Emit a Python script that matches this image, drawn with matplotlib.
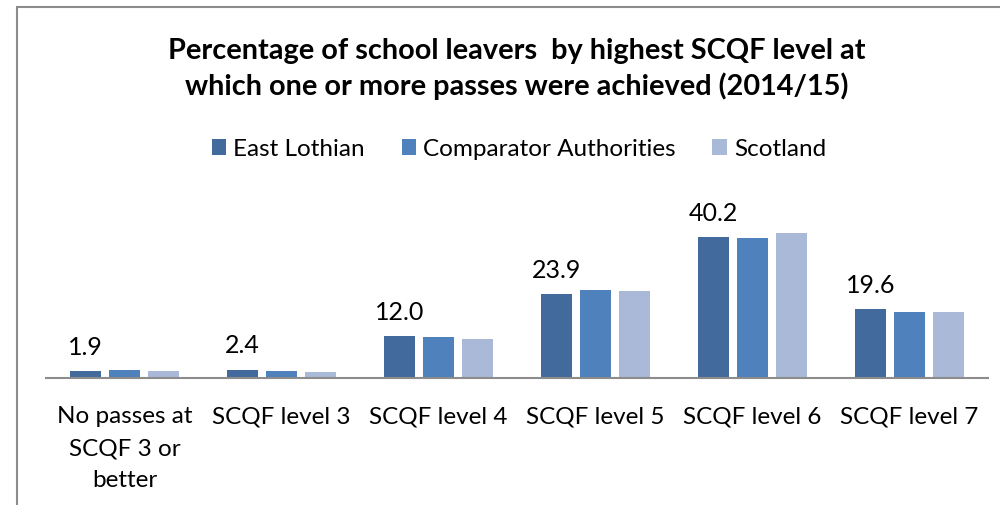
import numpy as np
import matplotlib.pyplot as plt
from matplotlib.patches import Rectangle

plt.rcParams['font.family'] = ['Lato', 'DejaVu Sans']

categories = ["No passes at\nSCQF 3 or\nbetter", "SCQF level 3", "SCQF level 4",
              "SCQF level 5", "SCQF level 6", "SCQF level 7"]
east_lothian = [1.9, 2.4, 12.0, 23.9, 40.2, 19.6]
comparator = [2.3, 1.9, 11.6, 25.2, 40.0, 18.8]
scotland = [2.0, 1.6, 11.0, 24.9, 41.4, 18.7]

series_names = ["East Lothian", "Comparator Authorities", "Scotland"]
colors = ["#426A9C", "#4F81BD", "#AAB9D7"]

W, H = 1000, 506
fig = plt.figure(figsize=(W / 100, H / 100), dpi=100)

# chart border (only left/top visible in the crop)
fig.add_artist(Rectangle((17 / W, -0.1), 1.2, (H - 8) / H + 0.1, transform=fig.transFigure,
                         fill=False, edgecolor="#8c8c8c", linewidth=1.5))

ax = fig.add_axes([46 / W, (H - 379) / H, 942 / W, 179 / H])
x = np.arange(len(categories))
step = 0.25
bw = 0.2
for i, (vals, name, c) in enumerate(zip([east_lothian, comparator, scotland], series_names, colors)):
    bars = ax.bar(x + (i - 1) * step, vals, width=bw, color=c, label=name, zorder=2)
    if i == 0:
        for b, v in zip(bars, vals):
            ax.annotate(f"{v:.1f}", (b.get_x() + b.get_width() / 2, v),
                        xytext=(0, 9.5), textcoords="offset points",
                        ha="center", va="bottom", fontsize=18)

ax.set_xlim(-0.5, len(categories) - 0.5)
ax.set_ylim(0, 51)
ax.set_yticks([])
ax.set_xticks(x)
ax.set_xticklabels(categories, fontsize=17.5, linespacing=1.65)
ax.tick_params(axis="x", length=0, pad=19.5)
for s in ["left", "right", "top"]:
    ax.spines[s].set_visible(False)
ax.spines["bottom"].set_color("#8c8c8c")
ax.spines["bottom"].set_linewidth(1.5)

fig.text(517 / W, 1 - 69 / H,
         "Percentage of school leavers  by highest SCQF level at\nwhich one or more passes were achieved (2014/15)",
         ha="center", va="center", fontsize=20.8, fontweight="bold", linespacing=1.33)

fig.legend(loc="center", bbox_to_anchor=(519 / W, 1 - 150 / H), ncol=3, frameon=False,
           fontsize=17.5, handlelength=0.6, handleheight=0.6, handletextpad=0.3,
           columnspacing=1.5)

fig.savefig("out.png", dpi=100)
